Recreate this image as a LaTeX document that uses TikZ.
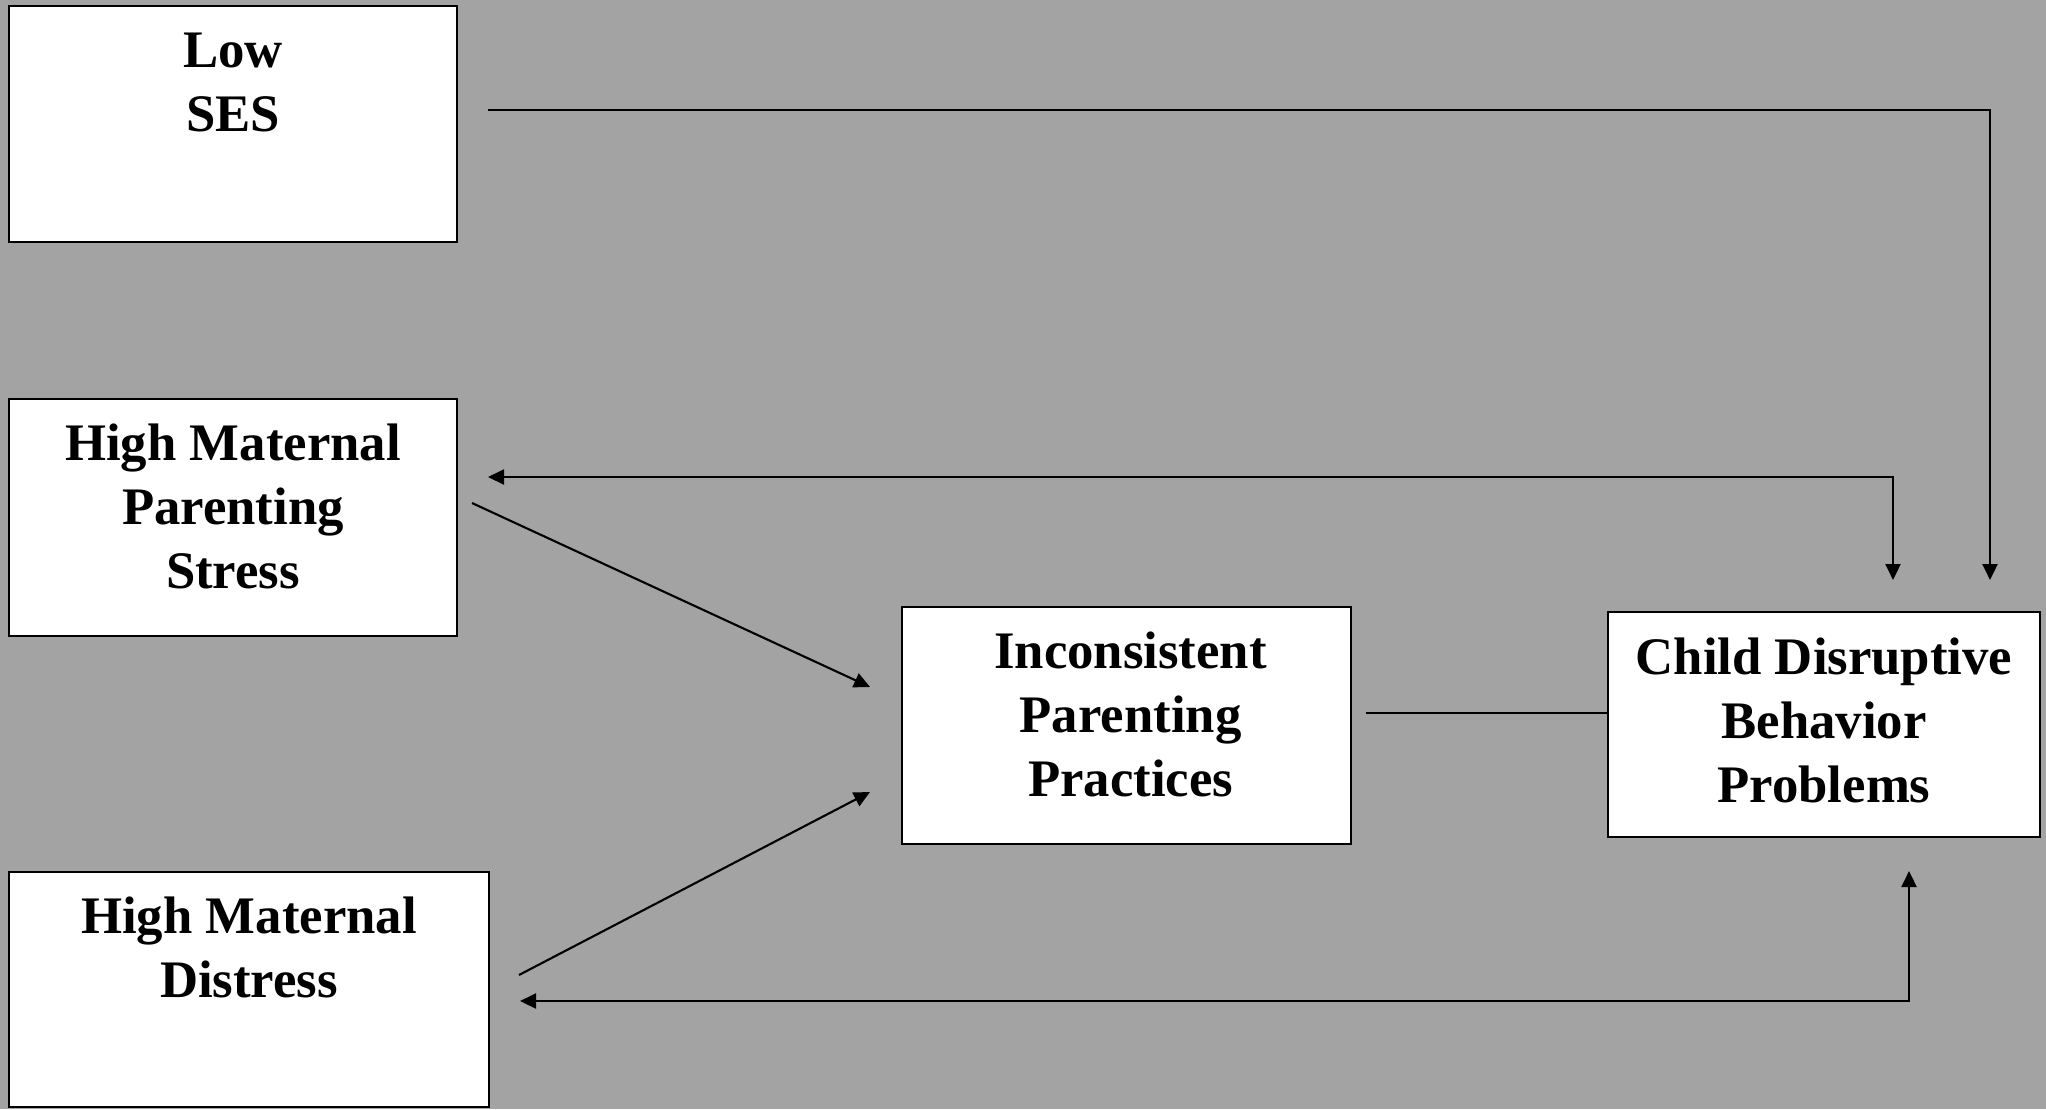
\documentclass[tikz,border=0pt]{standalone}
\usepackage{fontspec}
\setmainfont{Liberation Serif}
\usepackage{tikz}
\usetikzlibrary{arrows.meta,positioning,calc}
\definecolor{bggray}{RGB}{163,163,163}
\tikzstyle{model}=[
  >={Triangle[length=0.16cm,width=0.15cm]}, line width=0.6pt, x=0.01cm, y=-0.01cm
]
\tikzstyle{varbox}=[
  draw, fill=white, line width=0.7pt, inner sep=0pt, rectangle
]
\tikzstyle{vartext}=[
  inner sep=0pt, align=center, font=\fontsize{15}{18.2}\selectfont\bfseries
]
\tikzstyle{path}=[
  line width=0.6pt
]

\begin{document}
\begin{tikzpicture}[model]
    \useasboundingbox [fill=bggray] (0,0) rectangle (2046,1109);
      % boxes
      \node (low) at (233,124) [varbox, minimum width=4.48cm, minimum height=2.36cm] {};
      \node (stress) at (233,517.5) [varbox, minimum width=4.48cm, minimum height=2.37cm] {};
      \node (distress) at (249,989.5) [varbox, minimum width=4.80cm, minimum height=2.35cm] {};
      \node (incons) at (1126.5,725.5) [varbox, minimum width=4.49cm, minimum height=2.37cm] {};
      \node (child) at (1824,724.5) [varbox, minimum width=4.32cm, minimum height=2.25cm] {};
      % texts
      \node (lowtxt) [vartext, below=0.27cm of low.north] {Low\\SES};
      \node (stresstxt) [vartext, below=0.25cm of stress.north] {High Maternal\\Parenting\\Stress};
      \node (distresstxt) [vartext, below=0.25cm of distress.north] {High Maternal\\Distress};
      \node (incontxt) [vartext, below=0.25cm of incons.north, xshift=0.04cm] {Inconsistent\\Parenting\\Practices};
      \node (childtxt) [vartext, below=0.26cm of child.north] {Child Disruptive\\Behavior\\Problems};
      % free ends
      \coordinate (lowout) at (488,110);
      \coordinate (lowin) at (1990,580);
      \coordinate (stressin) at (488,477);
      \coordinate (stressfb) at (1893,580);
      \coordinate (stressout) at (472,503);
      \coordinate (distout) at (519,975);
      \coordinate (distin) at (520,1001);
      \coordinate (distfb) at (1909,871);
      \coordinate (inconsin1) at (870,687);
      \coordinate (inconsin2) at (870,792);
      \coordinate (inconsout) at (1366,713);
      % connectors
      \draw [path,->] (lowout) -| (lowin);
      \draw [path,<->] (stressin) -| (stressfb);
      \draw [path,->] (stressout) -- (inconsin1);
      \draw [path,->] (distout) -- (inconsin2);
      \draw [path] (inconsout) -- (inconsout -| child.west);
      \draw [path,<->] (distin) -| (distfb);
\end{tikzpicture}
\end{document}
